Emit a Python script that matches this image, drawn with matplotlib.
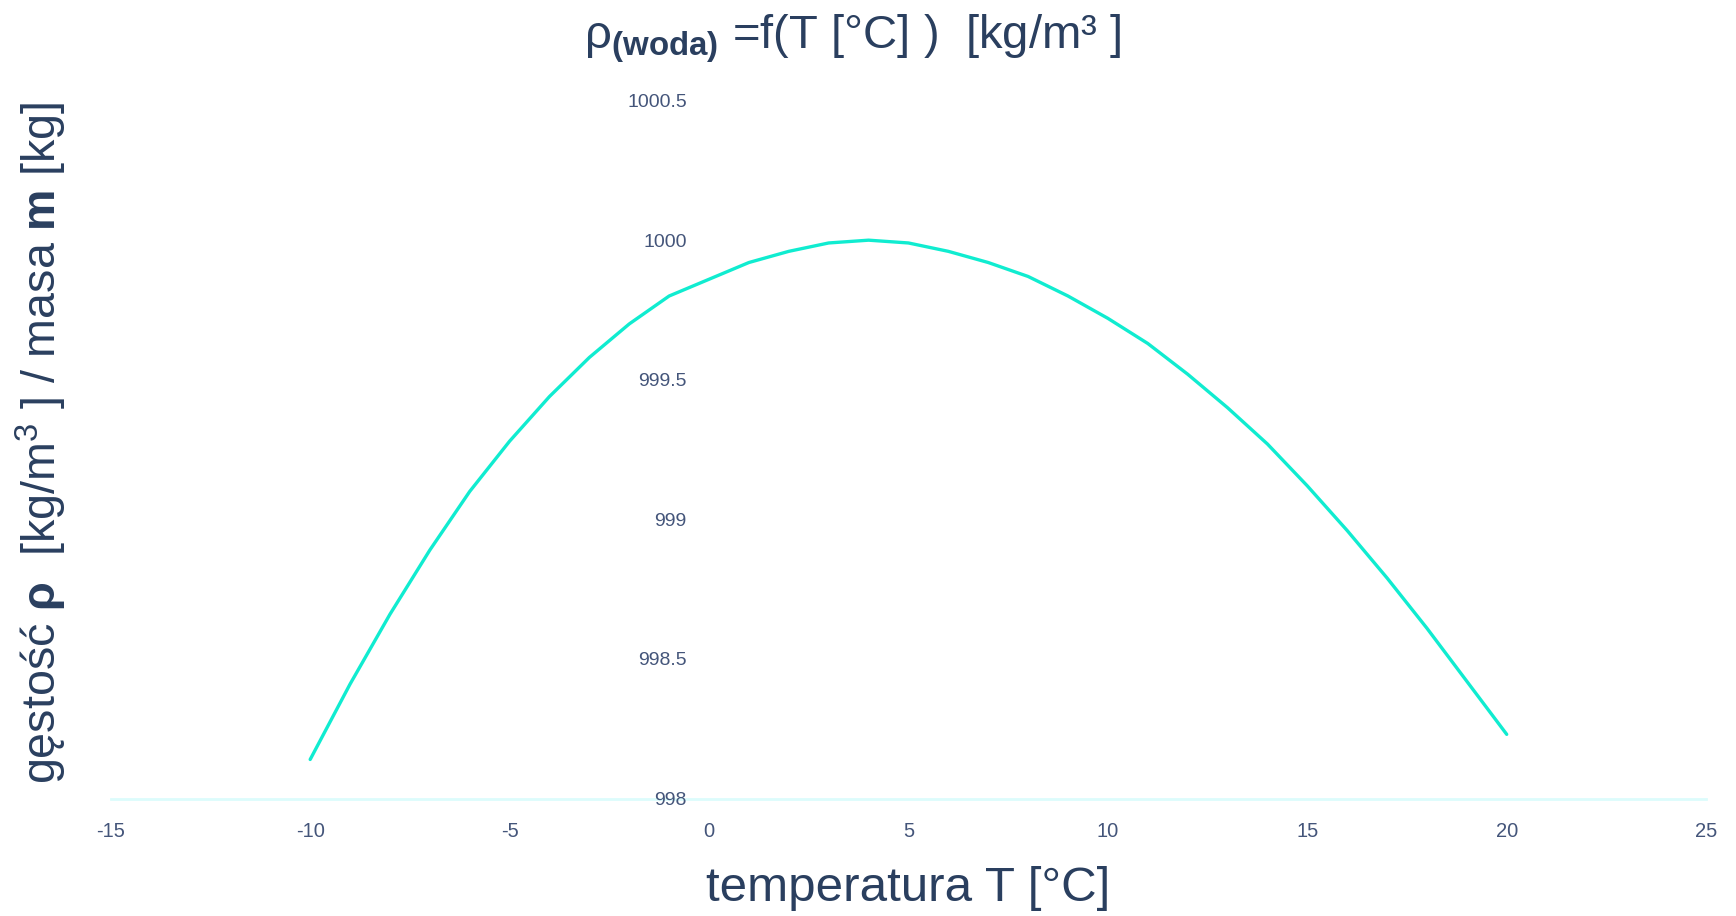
import matplotlib
matplotlib.use('Agg')
import matplotlib.pyplot as plt

# temperatura T [°C] i gęstość wody [kg/m3]
temperatura = [-10, -9, -8, -7, -6, -5, -4, -3, -2, -1, 0, 1, 2, 3, 4, 5,
               6, 7, 8, 9, 10, 11, 12, 13, 14, 15, 16, 17, 18, 19, 20]
gestosc = [998.14, 998.41, 998.66, 998.89, 999.10, 999.28, 999.44, 999.58, 999.70, 999.80,
           999.86, 999.92, 999.96, 999.99, 1000.00, 999.99, 999.96, 999.92, 999.87, 999.80,
           999.72, 999.63, 999.52, 999.40, 999.27, 999.12, 998.96, 998.79, 998.61, 998.42, 998.23]

xticks = [-15, -10, -5, 0, 5, 10, 15, 20, 25]
yticks = [998, 998.5, 999, 999.5, 1000, 1000.5]
yticklabels = ['998', '998.5', '999', '999.5', '1000', '1000.5']

plt.rcParams['font.family'] = ['Liberation Sans', 'DejaVu Sans']
plt.rcParams['axes.unicode_minus'] = False
plt.rcParams['mathtext.fontset'] = 'custom'
plt.rcParams['mathtext.rm'] = 'Liberation Sans'
plt.rcParams['mathtext.it'] = 'Liberation Sans:italic'
plt.rcParams['mathtext.bf'] = 'Liberation Sans:bold'

textColor = '#2a3f5f'
tickColor = '#44557a'

fig = plt.figure(figsize=(17.36, 9.16), dpi=100)
ax = fig.add_axes([0.0638, 0.1282, 0.919, 0.762])

ax.plot(temperatura, gestosc, color='#10ecd0', lw=2.4, solid_capstyle='round',
        solid_joinstyle='round', zorder=3)

ax.set_xlim(-15, 25)
ax.set_ylim(998, 1000.5)
ax.set_xticks(xticks)
ax.set_xticklabels([str(t) for t in xticks])
ax.set_yticks(yticks)
ax.set_yticklabels(yticklabels)

for s in ['top', 'right']:
    ax.spines[s].set_visible(False)
ax.spines['left'].set_position(('data', 0))
ax.spines['left'].set_visible(False)
ax.spines['bottom'].set_color('#dcfcfc')
ax.spines['bottom'].set_linewidth(2)
ax.spines['bottom'].set_zorder(0)

ax.tick_params(axis='x', length=0, pad=17, labelsize=14.5, labelcolor=tickColor)
ax.tick_params(axis='y', length=0, pad=16, labelsize=14, labelcolor=tickColor)

ax.set_xlabel('temperatura T [°C]', fontsize=35.5, color=textColor, labelpad=18)
fig.text(0.024, 0.517, 'gęstość $\\mathbf{ρ}$  [kg/m$^3$ ] / masa $\\mathbf{m}$ [kg]',
         rotation=90, fontsize=33.6, color=textColor, ha='center', va='center')

fig.text(0.491, 0.958, 'ρ$_{\\mathbf{(woda)}}$ =f(T [°C] )  [kg/m³ ]',
         fontsize=34, color=textColor, ha='center', va='center')

fig.savefig('out.png', dpi=100)
